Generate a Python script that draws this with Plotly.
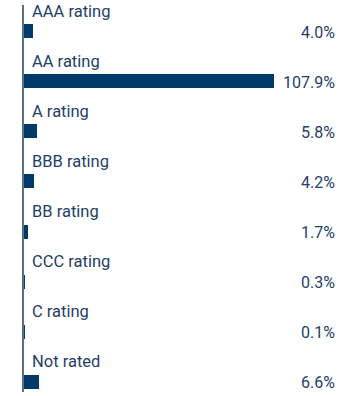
import plotly.graph_objects as go

categories = ["AAA rating", "AA rating", "A rating", "BBB rating", "BB rating",
              "CCC rating", "C rating", "Not rated"]
values = [4.0, 107.9, 5.8, 4.2, 1.7, 0.3, 0.1, 6.6]
value_labels = ["4.0%", "107.9%", "5.8%", "4.2%", "1.7%", "0.3%", "0.1%", "6.6%"]

bar_color = "#003a6b"
text_color = "#1f4068"
idx = list(range(len(categories)))

fig = go.Figure()
fig.add_trace(go.Bar(
    x=values, y=idx, orientation="h",
    marker=dict(color=bar_color, line=dict(width=0)),
    width=0.28, hoverinfo="skip",
))

annotations = []
for i, (c, lab) in enumerate(zip(categories, value_labels)):
    annotations.append(dict(
        x=0, y=i, xref="x", yref="y", text=c, showarrow=False,
        xanchor="left", yanchor="middle", xshift=6, yshift=20,
        font=dict(family="Roboto", size=16.5, color=text_color),
    ))
    annotations.append(dict(
        x=1, y=i, xref="paper", yref="y", text=lab, showarrow=False,
        xanchor="right", yanchor="middle", yshift=-1,
        font=dict(family="Roboto", size=16, color=text_color),
    ))

fig.update_layout(
    width=360, height=396,
    margin=dict(l=24, r=23, t=5, b=4),
    paper_bgcolor="white", plot_bgcolor="white",
    showlegend=False,
    bargap=0,
    xaxis=dict(range=[0, 135.1], visible=False, fixedrange=True),
    yaxis=dict(range=[7.2, -0.52], showticklabels=False, showgrid=False,
               zeroline=False, showline=True, linecolor="#5b7189", linewidth=1.5,
               ticks="", fixedrange=True),
    annotations=annotations,
)

fig.write_html("out.html", config={"displayModeBar": False},
               post_script="document.body.style.margin='0';document.body.style.overflow='hidden';")
